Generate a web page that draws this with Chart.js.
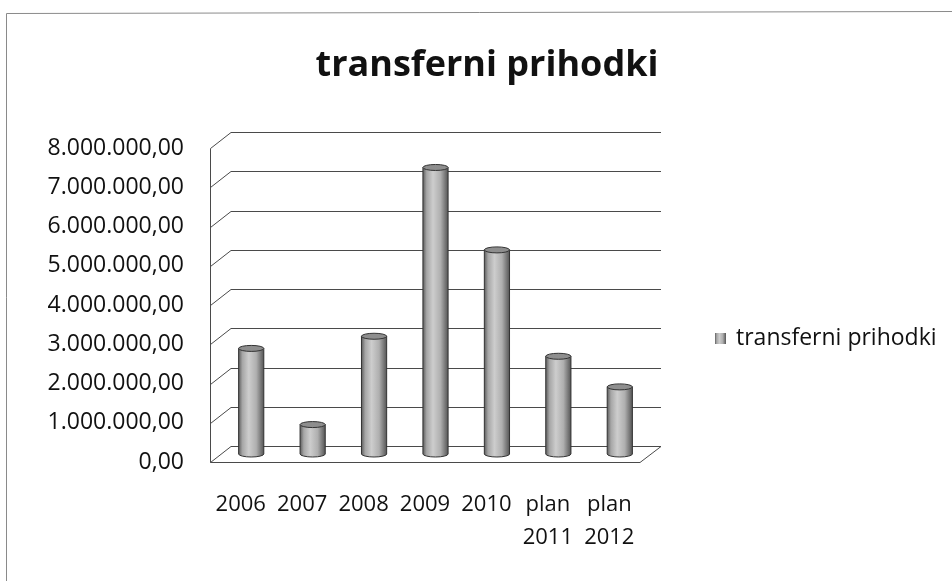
<!DOCTYPE html>
<html>
<head>
<meta charset="utf-8">
<script src="https://cdn.jsdelivr.net/npm/chart.js@4.4.1/dist/chart.umd.min.js"></script>
<style>
  html, body { margin: 0; padding: 0; background: #fff; }
  #wrap { width: 952px; height: 581px; position: relative; }
</style>
</head>
<body>
<div id="wrap"><canvas id="chart"></canvas></div>
<script>
  // data
  var categories = ['2006', '2007', '2008', '2009', '2010', ['plan', '2011'], ['plan', '2012']];
  var seriesName = 'transferni prihodki';
  var values = [2690000, 750000, 3000000, 7300000, 5200000, 2490000, 1710000];
  var yMax = 8000000;
  var yStep = 1000000;

  var DEPTH = { dx: 21, dy: 16 };
  var FONT = '"Open Sans", "DejaVu Sans", sans-serif';

  function formatSl(v) {
    var s = String(Math.round(v));
    var out = '';
    while (s.length > 3) {
      out = '.' + s.slice(-3) + out;
      s = s.slice(0, -3);
    }
    return s + out + ',00';
  }

  function cylGradient(ctx, x0, x1) {
    var g = ctx.createLinearGradient(x0, 0, x1, 0);
    g.addColorStop(0, '#5e5e5e');
    g.addColorStop(0.15, '#a6a6a6');
    g.addColorStop(0.4, '#cdcdcd');
    g.addColorStop(0.7, '#afafaf');
    g.addColorStop(1, '#565656');
    return g;
  }

  // walls + gridlines in fake 3D
  var wallsPlugin = {
    id: 'walls',
    beforeDatasetsDraw: function (chart) {
      var ctx = chart.ctx;
      var a = chart.chartArea;
      var y = chart.scales.y;
      ctx.save();
      ctx.strokeStyle = '#4a4a4a';
      ctx.lineWidth = 1;
      ctx.beginPath();
      y.ticks.forEach(function (t) {
        var fy = Math.round(y.getPixelForValue(t.value)) + 0.5;
        ctx.moveTo(a.left + 0.5, fy);
        ctx.lineTo(a.left + DEPTH.dx, fy - DEPTH.dy);
        ctx.lineTo(a.right + DEPTH.dx, fy - DEPTH.dy);
      });
      // left wall edge
      ctx.moveTo(a.left + 0.5, Math.round(y.getPixelForValue(yMax)) + 0.5);
      ctx.lineTo(a.left + 0.5, Math.round(a.bottom) + 0.5);
      // floor front + right edge
      ctx.lineTo(a.right, Math.round(a.bottom) + 0.5);
      ctx.lineTo(a.right + DEPTH.dx, Math.round(a.bottom) + 0.5 - DEPTH.dy);
      ctx.stroke();
      ctx.restore();
    },
    afterDatasetsDraw: function (chart) {
      var ctx = chart.ctx;
      var meta = chart.getDatasetMeta(0);
      ctx.save();
      ctx.translate(DEPTH.dx / 2, -DEPTH.dy / 2);
      meta.data.forEach(function (bar) {
        var p = bar.getProps(['x', 'y', 'base', 'width'], true);
        var rx = p.width / 2;
        var ry = 3;
        var x0 = p.x - rx, x1 = p.x + rx;
        ctx.fillStyle = cylGradient(ctx, x0, x1);
        ctx.strokeStyle = '#333';
        ctx.lineWidth = 1;
        ctx.beginPath();
        ctx.moveTo(x0, p.y);
        ctx.lineTo(x0, p.base);
        ctx.ellipse(p.x, p.base, rx, ry, 0, Math.PI, 0, true);
        ctx.lineTo(x1, p.y);
        ctx.closePath();
        ctx.fill();
        ctx.stroke();
        ctx.beginPath();
        ctx.ellipse(p.x, p.y, rx, ry, 0, 0, Math.PI * 2);
        ctx.fillStyle = '#8e8e8e';
        ctx.fill();
        ctx.stroke();
      });
      ctx.restore();
    },
    afterDraw: function (chart) {
      var ctx = chart.ctx;
      ctx.save();
      // thin frame of the scanned chart
      ctx.strokeStyle = '#8a8a8a';
      ctx.lineWidth = 1;
      ctx.beginPath();
      ctx.moveTo(6.5, 600);
      ctx.lineTo(6.5, 13.5);
      ctx.lineTo(960, 11.5);
      ctx.stroke();
      // title
      ctx.fillStyle = '#111';
      ctx.font = 'bold 36px ' + FONT;
      ctx.textAlign = 'center';
      ctx.textBaseline = 'alphabetic';
      ctx.fillText(seriesName, 487, 76);
      // legend
      ctx.fillStyle = cylGradient(ctx, 715, 726);
      ctx.fillRect(715, 333, 11, 11);
      ctx.fillStyle = '#111';
      ctx.font = '23px ' + FONT;
      ctx.textAlign = 'left';
      ctx.fillText(seriesName, 736, 345);
      ctx.restore();
    }
  };

  new Chart(document.getElementById('chart'), {
    type: 'bar',
    data: {
      labels: categories,
      datasets: [{
        label: seriesName,
        data: values,
        backgroundColor: 'rgba(0,0,0,0)',
        borderWidth: 0,
        categoryPercentage: 1,
        barPercentage: 0.41
      }]
    },
    options: {
      responsive: true,
      maintainAspectRatio: false,
      devicePixelRatio: 1,
      animation: false,
      layout: { padding: { top: 148, right: 312, bottom: 0, left: 0 } },
      plugins: { legend: { display: false }, title: { display: false }, tooltip: { enabled: false } },
      scales: {
        x: {
          grid: { display: false, drawTicks: false },
          border: { display: false },
          ticks: {
            color: '#111',
            font: { family: FONT, size: 22, lineHeight: 1.5 },
            padding: 26,
            maxRotation: 0,
            autoSkip: false
          },
          afterFit: function (s) { s.height = 581 - 462; }
        },
        y: {
          min: 0,
          max: yMax,
          grid: { display: false, drawTicks: false },
          border: { display: false },
          ticks: {
            stepSize: yStep,
            color: '#111',
            font: { family: FONT, size: 23 },
            padding: 26,
            callback: function (v) { return formatSl(v); }
          },
          afterFit: function (s) { s.width = 210; }
        }
      }
    },
    plugins: [wallsPlugin]
  });
</script>
</body>
</html>
